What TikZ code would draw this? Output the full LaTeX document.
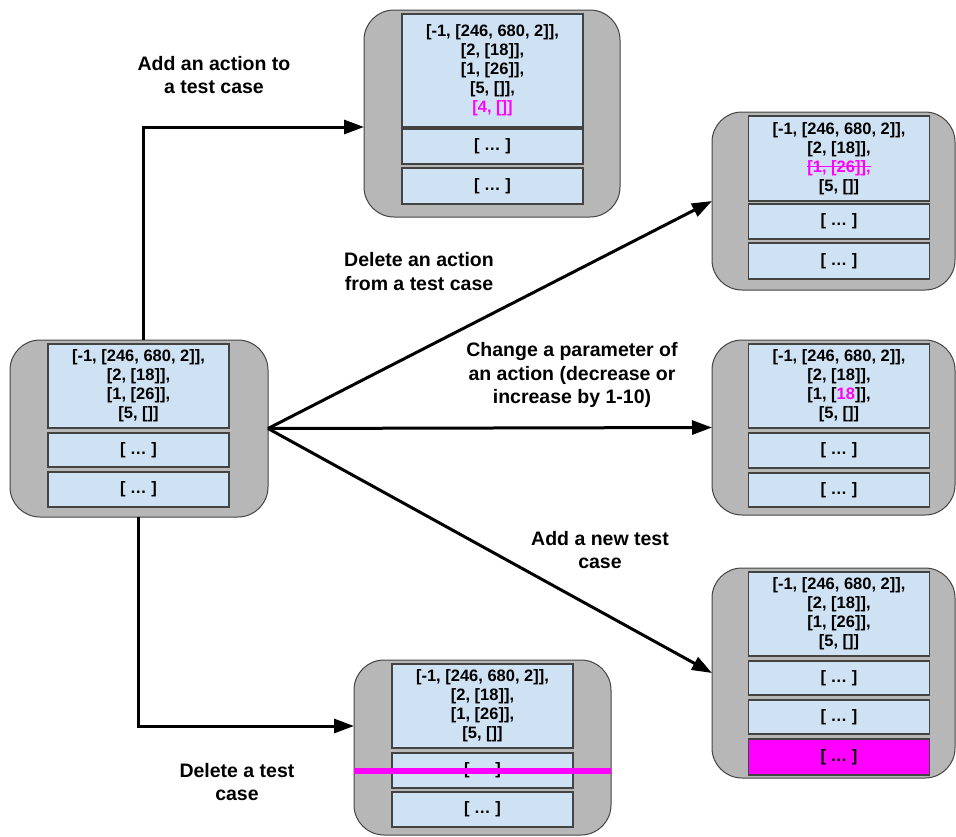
\documentclass[tikz,border=0pt]{standalone}
\usepackage{fontspec}
\setmainfont{Liberation Sans}
\usetikzlibrary{arrows.meta}

\definecolor{boxgray}{HTML}{B7B7B7}
\definecolor{cellblue}{HTML}{CFE2F3}
\definecolor{edgegray}{HTML}{434343}
\definecolor{hilite}{HTML}{FF00FF}

\newsavebox{\strikebox}
\newcommand{\struck}[1]{\sbox{\strikebox}{#1}\rlap{\usebox{\strikebox}}\rule[0.32em]{\wd\strikebox}{1.3pt}}

\begin{document}
\begin{tikzpicture}[x=1pt,y=-1pt,
        suite/.style={draw=edgegray,line width=1pt,fill=boxgray,rounded corners=30pt,inner sep=0pt,outer sep=0pt},
        cell/.style={draw=edgegray,line width=1.5pt,fill=cellblue,inner sep=0pt,outer sep=0pt,minimum width=181pt,
            align=center,font=\fontsize{16.5}{19}\selectfont\bfseries},
        opname/.style={align=center,font=\fontsize{19.5}{23.5}\selectfont\bfseries}
    ]%
        \useasboundingbox (0,0) rectangle (956,836);
        % original test suite
        \node[suite,minimum width=258pt,minimum height=177pt] (orig) at (139,428.5) {};
        \node[cell,minimum height=84pt] (orig1) at (138.5,386) {[-1, [246, 680, 2]],\\{}[2, [18]],\\{}[1, [26]],\\{}[5, []]};
        \node[cell,minimum height=34pt] (orig2) at (138.5,450) {[ … ]};
        \node[cell,minimum height=35pt] (orig3) at (138.5,489.5) {[ … ]};
        % add an action
        \node[suite,minimum width=256pt,minimum height=207pt] (addact) at (492,113.5) {};
        \node[cell,minimum height=113pt] (addact1) at (492.5,70.5) {[-1, [246, 680, 2]],\\{}[2, [18]],\\{}[1, [26]],\\{}[5, []],\\{}\textcolor{hilite}{[4, []]}};
        \node[cell,minimum height=35pt] (addact2) at (492.5,146.5) {[ … ]};
        \node[cell,minimum height=36pt] (addact3) at (492.5,186) {[ … ]};
        % delete an action
        \node[suite,minimum width=243pt,minimum height=178pt] (delact) at (833.5,201) {};
        \node[cell,minimum height=85pt] (delact1) at (839,158.5) {[-1, [246, 680, 2]],\\{}[2, [18]],\\{}\textcolor{hilite}{\struck{[1, [26]],}}\\{}[5, []]};
        \node[cell,minimum height=35pt] (delact2) at (839,221.5) {[ … ]};
        \node[cell,minimum height=36pt] (delact3) at (839,261) {[ … ]};
        % change a parameter
        \node[suite,minimum width=243pt,minimum height=175pt] (chpar) at (833.5,427.5) {};
        \node[cell,minimum height=84pt] (chpar1) at (839,386) {[-1, [246, 680, 2]],\\{}[2, [18]],\\{}[1, [\textcolor{hilite}{18}]],\\{}[5, []]};
        \node[cell,minimum height=35pt] (chpar2) at (839,450.5) {[ … ]};
        \node[cell,minimum height=34pt] (chpar3) at (839,490) {[ … ]};
        % add a test case
        \node[suite,minimum width=243pt,minimum height=210pt] (addtc) at (833.5,673) {};
        \node[cell,minimum height=84pt] (addtc1) at (839,614) {[-1, [246, 680, 2]],\\{}[2, [18]],\\{}[1, [26]],\\{}[5, []]};
        \node[cell,minimum height=34pt] (addtc2) at (839,678) {[ … ]};
        \node[cell,minimum height=34pt] (addtc3) at (839,717) {[ … ]};
        \node[cell,minimum height=36pt,fill=hilite] (addtc4) at (839,757) {[ … ]};
        % delete a test case
        \node[suite,minimum width=257pt,minimum height=175pt] (deltc) at (482.5,747.5) {};
        \node[cell,minimum height=84pt] (deltc1) at (482.5,706) {[-1, [246, 680, 2]],\\{}[2, [18]],\\{}[1, [26]],\\{}[5, []]};
        \node[cell,minimum height=35pt] (deltc2) at (482.5,770.5) {[ … ]};
        \node[cell,minimum height=35pt] (deltc3) at (482.5,809.5) {[ … ]};
        \draw[hilite,line width=6pt] (deltc.west |- deltc2) -- (deltc.east |- deltc2);
        % mutation names
        \node[opname] (lbladdact) at (214,75) {Add an action to\\a test case};
        \node[opname] (lbldelact) at (419,271.5) {Delete an action\\from a test case};
        \node[opname] (lblchpar) at (572,375) {Change a parameter of\\an action (decrease or\\increase by 1-10)};
        \node[opname] (lbladdtc) at (600,550) {Add a new test\\case};
        \node[opname] (lbldeltc) at (237,782) {Delete a test\\case};
        \begin{scope}[line width=3pt,-{Triangle[length=20pt,width=14pt]}]
            \draw ([xshift=4pt]orig.north) |- ([yshift=-13.5pt]addact.west);
            \draw (orig.east) -- (delact.west);
            \draw (orig.east) -- (chpar.west);
            \draw (orig.east) -- (addtc.west);
            \draw ([xshift=-1pt]orig.south) |- ([yshift=21.5pt]deltc.west);
        \end{scope}
    \end{tikzpicture}
\end{document}
